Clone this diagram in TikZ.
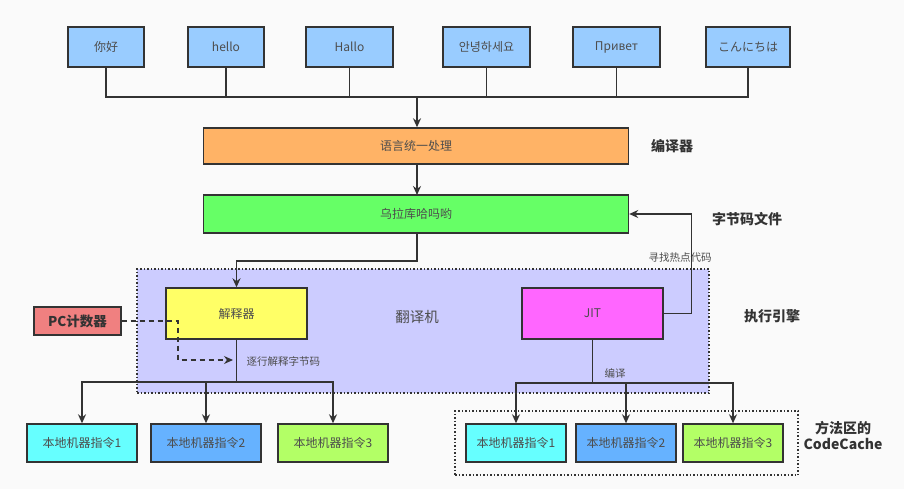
\documentclass[tikz,border=0pt]{standalone}
\usepackage{fontspec}
\setmainfont{Noto Sans CJK SC}
\usetikzlibrary{arrows.meta}
\definecolor{bgc}{HTML}{FAFAFA}
\definecolor{linec}{HTML}{333333}
\definecolor{txtc}{HTML}{4D4D4D}
\definecolor{topc}{HTML}{99CCFF}
\definecolor{orangec}{HTML}{FFB366}
\definecolor{greenc}{HTML}{66FF66}
\definecolor{yellowc}{HTML}{FFFF66}
\definecolor{magc}{HTML}{FF66FF}
\definecolor{regc}{HTML}{CCCCFF}
\definecolor{pcc}{HTML}{F08080}
\definecolor{cyanc}{HTML}{66FFFF}
\definecolor{bluec}{HTML}{66B2FF}
\definecolor{limec}{HTML}{B3FF66}
\begin{document}
\begin{tikzpicture}[x=1pt,y=-1pt,
  box/.style={draw=linec, line width=1.4pt, text=txtc, font=\fontsize{12}{14}\selectfont, inner sep=0pt, anchor=center},
  region/.style={draw=linec, line width=1.5pt, dotted, inner sep=0pt},
  conn/.style={draw=linec, line width=1.4pt},
  arr/.style={conn, -{Stealth[length=9pt,width=8pt]}},
  dasharr/.style={arr, dashed, dash pattern=on 5pt off 4pt},
  blabel/.style={text=linec, font=\fontsize{14}{16}\selectfont\bfseries},
  slabel/.style={text=txtc, font=\fontsize{10.5}{12}\selectfont}]
\fill[bgc] (0,0) rectangle (904,489);
\useasboundingbox (0,0) rectangle (904,489);

% regions
\node[region, fill=regc, minimum width=572, minimum height=124] (trans) at (423,331) {};
\node[region, minimum width=343, minimum height=64] (cache) at (626.5,443) {};

% top row
\node[box, fill=topc, minimum width=76, minimum height=40] (t1) at (106,47) {你好};
\node[box, fill=topc, minimum width=76, minimum height=40] (t2) at (226,47) {hello};
\node[box, fill=topc, minimum width=87, minimum height=40] (t3) at (349.5,47) {Hallo};
\node[box, fill=topc, minimum width=87, minimum height=40] (t4) at (486.5,47) {\fontspec{Noto Sans CJK KR}안녕하세요};
\node[box, fill=topc, minimum width=87, minimum height=40] (t5) at (616.5,47) {Привет};
\node[box, fill=topc, minimum width=84, minimum height=40] (t6) at (748,47) {\fontspec{Noto Sans CJK JP}こんにちは};
\coordinate (bus) at (417,97);

\node[box, fill=orangec, minimum width=425, minimum height=36] (comp) at (416,146) {语言统一处理};
\node[box, fill=greenc, minimum width=425, minimum height=38] (bc) at (416,214) {乌拉库哈吗哟};

\node[box, fill=yellowc, minimum width=141, minimum height=51] (interp) at (236.5,313.5) {解释器};
\node[box, fill=magc, minimum width=141, minimum height=51] (jit) at (592.5,313.5) {JIT};
\node[box, fill=pcc, text=linec, font=\fontsize{13.5}{15}\selectfont\bfseries, minimum width=87, minimum height=28] (pc) at (77.5,321) {PC计数器};

\node[box, fill=cyanc, minimum width=110, minimum height=38] (l1) at (82,443) {本地机器指令1};
\node[box, fill=bluec, minimum width=110, minimum height=38] (l2) at (206,443) {本地机器指令2};
\node[box, fill=limec, minimum width=110, minimum height=38] (l3) at (333,443) {本地机器指令3};
\node[box, fill=cyanc, minimum width=100, minimum height=38] (r1) at (516,443) {本地机器指令1};
\node[box, fill=bluec, minimum width=100, minimum height=38] (r2) at (626,443) {本地机器指令2};
\node[box, fill=limec, minimum width=100, minimum height=38] (r3) at (733,443) {本地机器指令3};

% labels
\node[text=txtc, font=\fontsize{14.5}{16}\selectfont] (fyj) at (417,317) {翻译机};
\node[blabel] (lbcomp) at (672,146) {编译器};
\node[blabel] (lbbc) at (747,219) {字节码文件};
\node[blabel] (lbexec) at (772,316) {执行引擎};
\node[blabel, align=center, font=\fontsize{14}{16}\selectfont\bfseries] (lbcache) at (843,435) {方法区的\\CodeCache};
\node[slabel, anchor=west] (lbline) at (243,361) {逐行解释字节码};
\node[slabel] (lbhot) at (680,258) {寻找热点代码};
\node[slabel] (lbjit) at (615,373) {编译};

% connectors top
\foreach \n in {t1,t2,t3,t4,t5,t6} \draw[conn] (\n.south) |- (bus);
\draw[arr] (bus) -- (bus |- comp.north);
\draw[arr] (comp) ++(1,18) -- ++(0,31);
\draw[arr] (bc.south) ++(1,0) |- (236.5,261) -- (interp.north);
\draw[arr] (jit.east) -- ++(28,0) |- (bc.east);

% pc
\coordinate (pcturn) at (178,360);
\coordinate (pcend) at (233,360);
\draw[dasharr] (pc.east) -| (pcturn) -- (pcend);

% interpreter outputs
\coordinate (ib) at (236.5,382);
\draw[conn] (interp.south) -- (ib);
\draw[arr] (ib) -| (l1.north);
\draw[arr] (ib) -| (l2.north);
\draw[arr] (ib) -| (l3.north);

% jit outputs
\coordinate (jb) at (592.5,383);
\draw[conn] (jit.south) -- (jb);
\draw[arr] (jb) -| (r1.north);
\draw[arr] (jb) -| (r2.north);
\draw[arr] (jb) -| (r3.north);
\end{tikzpicture}
\end{document}
